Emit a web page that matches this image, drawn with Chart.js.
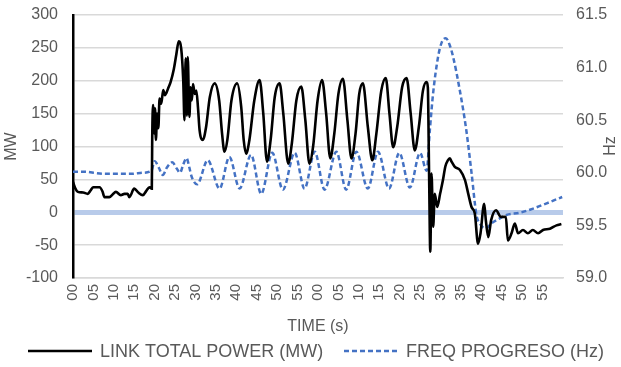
<!DOCTYPE html>
<html>
<head>
<meta charset="utf-8">
<script src="https://cdn.jsdelivr.net/npm/chart.js@4.4.1/dist/chart.umd.min.js"></script>
<style>
  html, body { margin: 0; padding: 0; background: #fff; }
  #wrap { width: 621px; height: 367px; position: relative; }
</style>
</head>
<body>
<div id="wrap"><canvas id="c" width="621" height="367"></canvas></div>
<script>
// ---- Data ----
const seriesNames = ['LINK TOTAL POWER (MW)', 'FREQ PROGRESO (Hz)'];

// X tick labels (every 5 s over two minutes)
const xTickSeconds = [0,5,10,15,20,25,30,35,40,45,50,55,60,65,70,75,80,85,90,95,100,105,110,115];
const xTickLabels = ['00','05','10','15','20','25','30','35','40','45','50','55',
                     '00','05','10','15','20','25','30','35','40','45','50','55'];

// LINK TOTAL POWER (MW): time (s) and value
const powerTime = [0,0.6,1.2,2.5,3.6,4.3,4.9,6.5,7.2,7.7,8.9,9.7,10.5,11.7,12.6,13.4,13.8,15.0,16.0,17.1,18.0,18.7,19.3,
  19.4,19.6,19.9,20.1,20.3,20.6,20.9,21.2,21.6,22.1,22.5,22.9,23.4,23.9,24.7,25.3,25.9,26.5,27.0,27.3,27.6,27.9,28.1,28.5,28.8,29.1,29.4,29.8,30.2,30.6,31.0,31.8,
  32.6,33.5,34.7,35.8,36.5,37.1,37.8,38.8,40.2,41.2,41.8,42.4,43.2,44.4,45.7,46.6,47.5,48.4,49.4,50.6,51.5,52.7,53.6,54.7,55.9,56.9,57.9,
  58.8,59.9,61.0,62.0,63.0,64.0,65.0,66.1,67.2,68.2,69.2,70.1,71.0,72.2,73.3,74.3,75.5,76.6,77.5,78.4,79.4,80.6,81.7,82.7,83.7,84.7,85.7,86.6,86.9,
  87.2,87.5,87.8,88.2,88.6,89.2,89.9,90.6,91.2,91.8,92.3,92.7,93.5,94.8,96.0,96.8,97.6,98.4,99.2,99.8,100.7,101.1,101.7,102.4,103.6,104.8,106.0,106.5,107.4,108.2,109.0,110.2,111.4,112.6,113.9,115.1,116.8,118.4,119.6];
const powerMW = [46,36,31,30,28,33,38,38,32,23,23,27,31,26,28,28,23,36,30,26,33,38,36,
  112,163,120,158,110,150,128,173,165,186,178,182,190,198,218,240,260,249,200,140,234,147,236,145,190,170,195,180,185,160,125,110,
  130,175,196,170,120,92,110,170,196,160,110,89,110,170,201,150,77,110,175,196,150,74,105,170,191,140,74,
  100,170,201,150,82,120,180,203,140,82,120,180,196,130,79,120,185,204,150,99,130,190,204,150,94,130,185,198,190,
  60,-60,59,-22,28,8,28,49,70,79,82,77,69,64,49,28,8,-2,-48,-32,13,-12,-38,-12,3,-7,-7,-43,-32,-17,-32,-27,-32,-27,-32,-27,-25,-20,-18];

// FREQ PROGRESO (Hz): time (s) and value
const freqTime = [0,3,5,8,11,14,17,19.2,20.0,21.0,22.0,23.0,24.3,25.4,26.2,27.0,27.8,28.5,29.0,30.4,
  33.0,35.9,38.3,40.8,43.6,46.1,48.8,51.4,54.3,56.7,59.2,61.6,64.5,66.9,69.4,72.2,74.7,77.4,79.9,82.5,85.0,
  86.6,87.4,88.2,89.4,90.3,91.3,92.2,93.1,94.7,96.3,97.6,98.8,99.6,101.0,102.5,104.2,106.2,109.4,112.7,116.0,119.8];
const freqHz = [60.01,60.01,60.0,59.99,59.99,59.99,60.0,60.02,60.11,60.05,59.98,60.05,60.10,60.04,60.0,60.08,60.14,60.05,59.97,59.89,
  60.12,59.85,60.15,59.85,60.17,59.80,60.19,59.84,60.19,59.85,60.20,59.84,60.20,59.84,60.20,59.85,60.20,59.85,60.19,59.86,60.19,
  60.02,60.41,60.76,61.10,61.24,61.28,61.22,61.10,60.79,60.41,60.0,59.60,59.52,59.47,59.52,59.56,59.60,59.62,59.66,59.71,59.77];

// Axis ranges
const mwRange = [-100, 300, 50];
const hzRange = [59.0, 61.5, 0.5];
const timeRange = [0, 120];

// ---- Build chart ----
const TXT = '#595959';
const FONT = "'Liberation Sans', Arial, sans-serif";
const powerPts = powerTime.map((t, i) => ({x: t, y: powerMW[i]}));
const freqPts = freqTime.map((t, i) => ({x: t, y: freqHz[i]}));

const extras = {
  id: 'extras',
  afterDraw(chart) {
    const ctx = chart.ctx;
    ctx.save();
    // right axis title, reading bottom-to-top
    ctx.fillStyle = TXT;
    ctx.font = '16px ' + FONT;
    ctx.textAlign = 'center';
    ctx.textBaseline = 'middle';
    ctx.translate(611, 146);
    ctx.rotate(-Math.PI / 2);
    ctx.fillText('Hz', 0, 0);
    ctx.restore();

    // legend
    ctx.save();
    const ly = 351;
    const items = [{x0: 28, len: 64, tx: 100, ds: chart.data.datasets[0]},
                   {x0: 344, len: 56, tx: 406, ds: chart.data.datasets[1]}];
    ctx.font = '18px ' + FONT;
    ctx.textBaseline = 'middle';
    ctx.textAlign = 'left';
    items.forEach(it => {
      ctx.beginPath();
      ctx.strokeStyle = it.ds.borderColor;
      ctx.lineWidth = it.ds.borderWidth;
      ctx.setLineDash(it.ds.borderDash || []);
      ctx.moveTo(it.x0, ly);
      ctx.lineTo(it.x0 + it.len, ly);
      ctx.stroke();
      ctx.setLineDash([]);
      ctx.fillStyle = TXT;
      ctx.fillText(it.ds.label, it.tx, ly + 1);
    });
    ctx.restore();
  }
};

const noPad = (s) => { s.paddingTop = 0; s.paddingBottom = 0; };

new Chart(document.getElementById('c'), {
  type: 'line',
  data: {
    datasets: [
      {
        label: seriesNames[0],
        data: powerPts,
        yAxisID: 'y',
        borderColor: '#000000',
        borderWidth: 2.6,
        pointRadius: 0,
        cubicInterpolationMode: 'monotone',
        fill: false
      },
      {
        label: seriesNames[1],
        data: freqPts,
        yAxisID: 'y2',
        borderColor: '#4472C4',
        borderWidth: 2.5,
        borderDash: [5, 3],
        pointRadius: 0,
        cubicInterpolationMode: 'monotone',
        fill: false
      }
    ]
  },
  options: {
    responsive: false,
    animation: false,
    devicePixelRatio: 1,
    layout: { padding: { top: 15, bottom: 31, left: 0, right: 0 } },
    plugins: { legend: { display: false }, tooltip: { enabled: false } },
    scales: {
      x: {
        type: 'linear',
        min: timeRange[0],
        max: timeRange[1],
        afterBuildTicks: (s) => { s.ticks = xTickSeconds.map(v => ({value: v})); },
        afterFit: (s) => { s.height = 367 - 31 - 278; s.paddingLeft = 0; s.paddingRight = 0; },
        grid: { display: false, drawTicks: false },
        border: { color: '#d9d9d9', width: 1.5 },
        ticks: {
          autoSkip: false,
          maxRotation: 90,
          minRotation: 90,
          padding: 6,
          color: TXT,
          font: { family: FONT, size: 15 },
          callback: (v, i) => xTickLabels[i]
        },
        title: { display: true, text: 'TIME (s)', color: TXT, font: { family: FONT, size: 16 }, padding: { top: 0, bottom: 0 } }
      },
      y: {
        position: 'left',
        min: mwRange[0],
        max: mwRange[1],
        afterFit: (s) => { s.width = 73; noPad(s); },
        ticks: { stepSize: mwRange[2], color: TXT, padding: 15, font: { family: FONT, size: 16 } },
        grid: {
          drawTicks: false,
          color: (c) => c.tick && c.tick.value === 0 ? '#b8cbea' : '#d9d9d9',
          lineWidth: (c) => c.tick && c.tick.value === 0 ? 5 : 1.5
        },
        border: { color: '#000000', width: 2.5 },
        title: { display: true, text: 'MW', color: TXT, font: { family: FONT, size: 16 }, padding: { top: 2, bottom: 0 } }
      },
      y2: {
        position: 'right',
        min: hzRange[0],
        max: hzRange[1],
        afterFit: (s) => { s.width = 58; noPad(s); },
        ticks: { stepSize: hzRange[2], color: TXT, padding: 13, font: { family: FONT, size: 16 }, callback: (v) => Number(v).toFixed(1) },
        grid: { display: false, drawTicks: false },
        border: { display: false }
      }
    }
  },
  plugins: [extras]
});
</script>
</body>
</html>
